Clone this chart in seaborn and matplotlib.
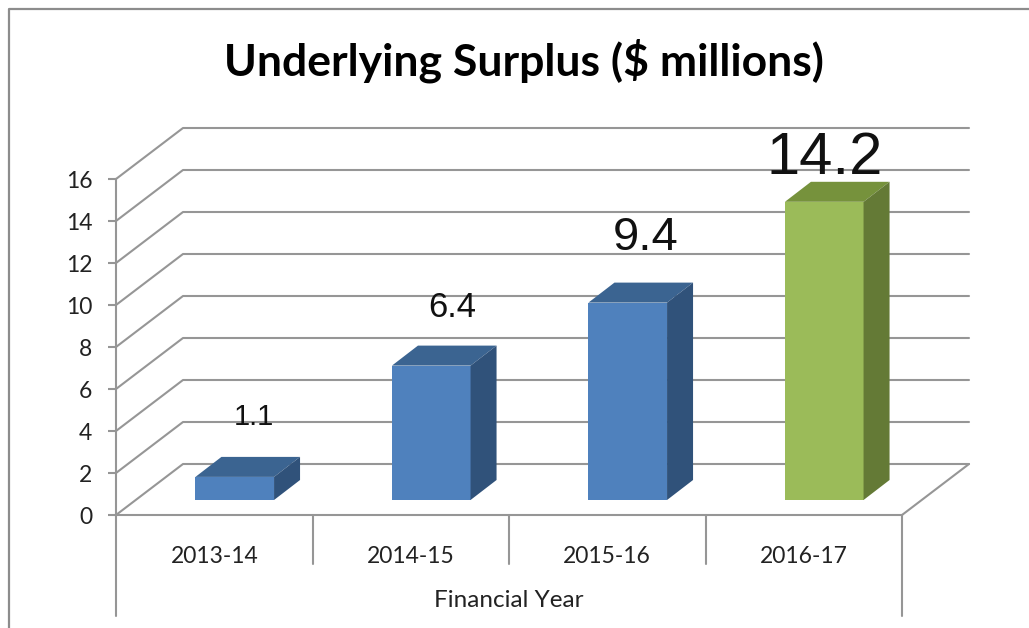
import matplotlib
matplotlib.use("Agg")
import matplotlib.pyplot as plt
from matplotlib.lines import Line2D
from matplotlib.patches import Polygon
import seaborn as sns

# 데이터
years = ["2013-14", "2014-15", "2015-16", "2016-17"]
surplus = [1.1, 6.4, 9.4, 14.2]
y_ticks = [0, 2, 4, 6, 8, 10, 12, 14, 16]

# 색상
face_colors = ["#4F81BD", "#4F81BD", "#4F81BD", "#9BBB59"]
top_colors = ["#3B6491", "#3B6491", "#3B6491", "#76923C"]
side_colors = ["#30527A", "#30527A", "#30527A", "#647A36"]
line_color = "#969696"

# 라벨 크기, 막대 위 오프셋 (px)
label_sizes = [21, 25, 34, 43]
label_offsets = [(19, 60), (21, 58), (18, 65), (0, 43)]

W, H = 1029, 628
sns.set_theme(style="white")
plt.rcParams["font.family"] = ["Lato", "DejaVu Sans"]


def px_axes(left, right, top, bottom):
    # 픽셀 좌표로 axes 위치 지정
    return fig.add_axes([left / W, 1 - bottom / H, (right - left) / W, (bottom - top) / H])


fig = plt.figure(figsize=(W / 100, H / 100), dpi=100, facecolor="white")

# 바깥 테두리
fig.add_artist(Line2D([9 / W, 9 / W, 1], [0, 1 - 9 / H, 1 - 9 / H], color="#8C8C8C", lw=1.6))

# 앞면 축 (눈금, 카테고리)
ax = px_axes(116, 902, 179, 515)
ax.set_xlim(-0.5, 3.5)
ax.set_ylim(0, 16)
ax.patch.set_alpha(0)
sns.despine(ax=ax, top=True, right=True)
for s in ["left", "bottom"]:
    ax.spines[s].set_color(line_color)
    ax.spines[s].set_linewidth(1.5)
ax.set_yticks(y_ticks)
ax.tick_params(axis="y", left=True, length=6, width=1.5, color=line_color, pad=11, labelsize=16.5, labelcolor="#222222")
ax.set_xticks(range(len(years)), years)
ax.tick_params(axis="x", bottom=False, pad=16, labelsize=16.5, labelcolor="#222222")
ax.set_xlabel("Financial Year", fontsize=17.5, color="#222222", labelpad=17)

# 바닥/벽 깊이
unit_x = 786 / 4
unit_y = 21
dx = 67 / unit_x
dy = 51 / unit_y

line_kw = dict(color=line_color, lw=1.5, clip_on=False, zorder=1)
for v in y_ticks:
    ax.plot([-0.5, -0.5 + dx, 3.5 + dx], [v, v + dy, v + dy], **line_kw)
ax.plot([3.5, 3.5 + dx], [0, dy], **line_kw)

# 카테고리 구분선
for i in range(5):
    low = -101 / unit_y if i in (0, 4) else -49 / unit_y
    ax.plot([i - 0.5, i - 0.5], [0, low], **line_kw)

# 막대 (앞면 기준 면)
ax2 = px_axes(136.5, 922.5, 164, 500)
ax2.patch.set_alpha(0)
sns.barplot(x=years, y=surplus, hue=years, palette=face_colors, saturation=1, width=0.4,
            legend=False, ax=ax2, zorder=3, linewidth=0)
ax2.set_xlim(-0.5, 3.5)
ax2.set_ylim(0, 16)
ax2.axis("off")

bar_dx = 26 / unit_x
bar_dy = 20 / unit_y
bars = [p for p in ax2.patches if p.get_height() > 0]
for i, p in enumerate(bars):
    x0, x1 = p.get_x(), p.get_x() + p.get_width()
    y1 = p.get_height()
    ax2.add_patch(Polygon([(x0, y1), (x1, y1), (x1 + bar_dx, y1 + bar_dy), (x0 + bar_dx, y1 + bar_dy)],
                          facecolor=top_colors[i], edgecolor="none", zorder=3, clip_on=False))
    ax2.add_patch(Polygon([(x1, 0), (x1 + bar_dx, bar_dy), (x1 + bar_dx, y1 + bar_dy), (x1, y1)],
                          facecolor=side_colors[i], edgecolor="none", zorder=3, clip_on=False))
    # 값 라벨
    ax2.annotate(str(surplus[i]), xy=((x0 + x1) / 2, y1), xycoords="data",
                 xytext=(label_offsets[i][0] * 0.72, label_offsets[i][1] * 0.72), textcoords="offset points",
                 ha="center", va="center", fontsize=label_sizes[i], color="#111111",
                 family="Liberation Sans", zorder=5, annotation_clip=False)

# 제목
fig.text(524 / W, 1 - 61 / H, "Underlying Surplus ($ millions)", ha="center", va="center",
         fontsize=32, fontweight="bold", color="black")

fig.savefig("out.png", dpi=100, facecolor="white")
